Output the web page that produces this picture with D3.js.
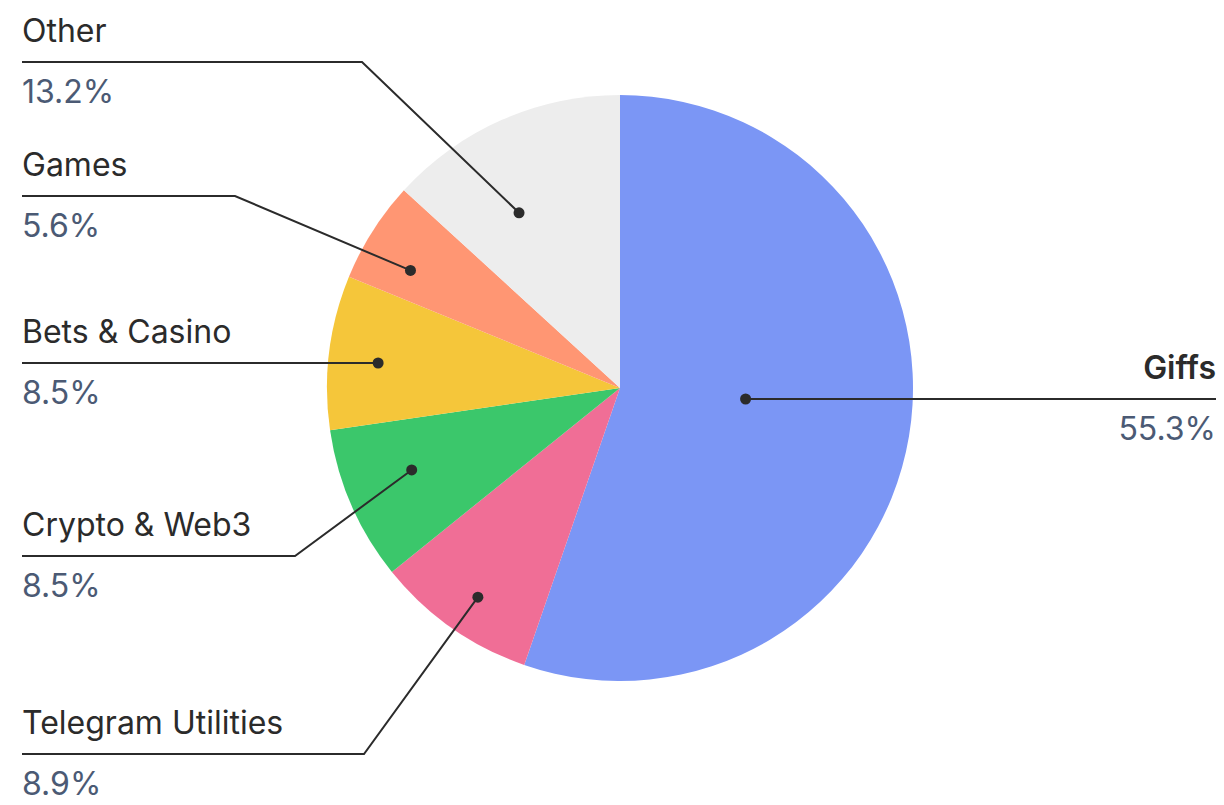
<!DOCTYPE html>
<html>
<head>
<meta charset="utf-8">
<script src="https://cdn.jsdelivr.net/npm/d3@7"></script>
<style>
  html, body { margin: 0; padding: 0; background: #fff; }
  svg { display: block; }
  text { font-family: Inter, "Noto Sans", sans-serif; }
</style>
</head>
<body>
<svg id="chart" width="1224" height="805"></svg>
<script>
// data, clockwise from 12 o'clock
const categories = ["Giffs", "Telegram Utilities", "Crypto & Web3", "Bets & Casino", "Games", "Other"];
const shares = [55.3, 8.9, 8.5, 8.5, 5.6, 13.2];
const colors = ["#7b96f5", "#f06e96", "#3bc76b", "#f5c63a", "#ff9673", "#ededed"];

// callout layout: dot radius (fraction of r), angle nudge (deg), label line y, bend x
const dotR     = [0.43, 0.863, 0.764, 0.83, 0.82, 0.69];
const dotNudge = [-5, -0.9, 2.1, -1.1, -3.1, -6.2];
const lineY    = [399, 754, 556, 363, 196, 62];
const bendX    = [null, 364, 295, null, 235, 362];

const W = 1224, H = 805;
const cx = 620, cy = 388, radius = 293;
const leftX = 22, rightX = 1216;

const svg = d3.select("#chart");
const fmt = v => d3.format(".1f")(v) + "%";

const pie = d3.pie().sort(null).value(d => d.value);
const arc = d3.arc().innerRadius(0).outerRadius(radius);

const data = categories.map((c, i) => ({ name: c, value: shares[i], i: i }));
const arcs = pie(data);

const g = svg.append("g").attr("transform", "translate(" + cx + "," + cy + ")");

g.selectAll("path.slice")
  .data(arcs)
  .enter().append("path")
  .attr("class", "slice")
  .attr("d", arc)
  .attr("fill", d => colors[d.data.i]);

// anchor points inside the slices
const anchor = d => {
  const a = (d.startAngle + d.endAngle) / 2 + dotNudge[d.data.i] * Math.PI / 180;
  const rr = radius * dotR[d.data.i];
  return [cx + rr * Math.sin(a), cy - rr * Math.cos(a)];
};

const callouts = svg.append("g");

arcs.forEach(d => {
  const i = d.data.i;
  const [px, py] = anchor(d);
  const y = lineY[i];
  const right = px > cx;
  let pts;
  if (right) {
    pts = [[px, y], [rightX, y]];
  } else if (bendX[i] == null) {
    pts = [[leftX, y], [px, y]];
  } else {
    pts = [[leftX, y], [bendX[i], y], [px, py]];
  }
  callouts.append("path")
    .attr("d", d3.line()(pts))
    .attr("fill", "none")
    .attr("stroke", "#2b2b2b")
    .attr("stroke-width", 2);
  callouts.append("circle")
    .attr("cx", px).attr("cy", right ? y : (bendX[i] == null ? y : py))
    .attr("r", 5.5)
    .attr("fill", "#2b2b2b");

  const tx = right ? rightX : leftX;
  const anchorTxt = right ? "end" : "start";
  callouts.append("text")
    .attr("x", tx).attr("y", y - 20)
    .attr("text-anchor", anchorTxt)
    .attr("font-size", 32)
    .attr("font-weight", right ? 600 : 400)
    .attr("fill", "#2b2b2b")
    .text(d.data.name);
  callouts.append("text")
    .attr("x", tx).attr("y", y + 41)
    .attr("text-anchor", anchorTxt)
    .attr("font-size", 32)
    .attr("fill", "#4b5a74")
    .text(fmt(d.data.value));
});
</script>
</body>
</html>
